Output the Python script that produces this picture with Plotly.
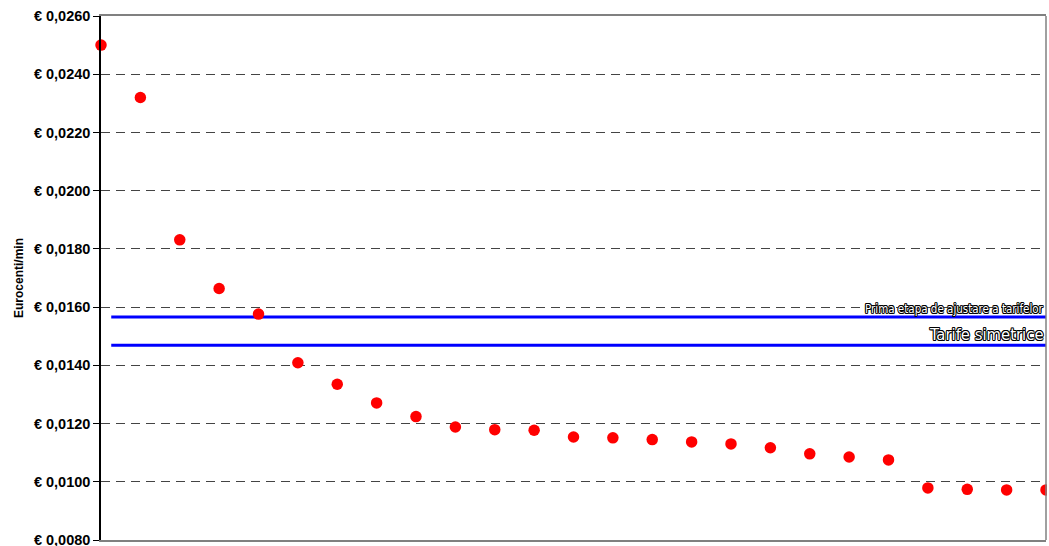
import plotly.graph_objects as go

# Data
positions = list(range(1, 26))
tariffs = [0.02500, 0.02320, 0.01831, 0.01664, 0.01576, 0.01409, 0.01335, 0.01271,
           0.01224, 0.01188, 0.01179, 0.01177, 0.01154, 0.01151, 0.01145, 0.01137,
           0.01130, 0.01117, 0.01096, 0.01085, 0.01075, 0.00979, 0.00974, 0.00972,
           0.00972]
ref_names = ["Prima etapa de ajustare a tarifelor", "Tarife simetrice"]
ref_values = [0.01566, 0.01469]
ref_font_sizes = [11.5, 16.5]
y_ticks = [0.008, 0.010, 0.012, 0.014, 0.016, 0.018, 0.020, 0.022, 0.024, 0.026]
y_tick_labels = ["€ " + f"{v:.4f}".replace(".", ",") for v in y_ticks]

line_start = 1.26
x_min, x_max = 1, 25

fig = go.Figure()

for name, val in zip(ref_names, ref_values):
    fig.add_trace(go.Scatter(
        x=[line_start, x_max], y=[val, val], mode="lines",
        line=dict(color="#0000FF", width=3), hoverinfo="skip", showlegend=False,
        name=name,
    ))

fig.add_trace(go.Scatter(
    x=positions, y=tariffs, mode="markers",
    marker=dict(color="#FF0000", size=11.5, line=dict(width=0)),
    cliponaxis=False, showlegend=False,
))

outline = ("1px 0 0 #000, -1px 0 0 #000, 0 1px 0 #000, 0 -1px 0 #000, "
           "0.7px 0.7px 0 #000, -0.7px -0.7px 0 #000, 0.7px -0.7px 0 #000, -0.7px 0.7px 0 #000")
for name, val, fs in zip(ref_names, ref_values, ref_font_sizes):
    fig.add_annotation(
        x=1, xref="paper", y=val, yref="y", xanchor="right", yanchor="bottom",
        text=name, showarrow=False, yshift=-1, xshift=0,
        font=dict(family="DejaVu Sans Condensed, Liberation Sans Narrow, sans-serif",
                  size=fs, color="#ffffff", shadow=outline),
    )

# white mask to clip markers beyond right border, then the grey border line
fig.add_shape(type="rect", xref="paper", yref="paper", x0=1.001, x1=1.01, y0=-0.02, y1=1.02,
              fillcolor="white", line=dict(width=0), layer="above")
fig.add_shape(type="line", xref="paper", yref="paper", x0=1, x1=1, y0=0, y1=1,
              line=dict(color="#808080", width=1.5), layer="above")

fig.update_layout(
    width=1049, height=546,
    margin=dict(l=101, r=3, t=16, b=6),
    paper_bgcolor="white", plot_bgcolor="white",
    xaxis=dict(range=[x_min, x_max], showticklabels=False, ticks="", showgrid=False,
               zeroline=False, showline=True, linecolor="#808080", linewidth=1.5, mirror=True),
    yaxis=dict(range=[0.008, 0.026], tickvals=y_ticks, ticktext=y_tick_labels,
               ticks="outside", ticklen=6, tickcolor="#000", tickwidth=1,
               showline=True, linecolor="#000", linewidth=1.5,
               showgrid=True, gridcolor="#444444", gridwidth=1, griddash="9px,6px",
               zeroline=False, automargin=False, ticklabeloverflow="allow",
               tickfont=dict(family="Liberation Sans, Arial, sans-serif", size=14.5, color="#000",
                             weight="bold"),
               title=dict(text="Eurocenti/min", standoff=8,
                          font=dict(family="Liberation Sans, Arial, sans-serif", size=12,
                                    color="#000", weight="bold"))),
)

fig.write_html("out.html", post_script="document.body.style.margin='0';",
               config={"displayModeBar": False})
